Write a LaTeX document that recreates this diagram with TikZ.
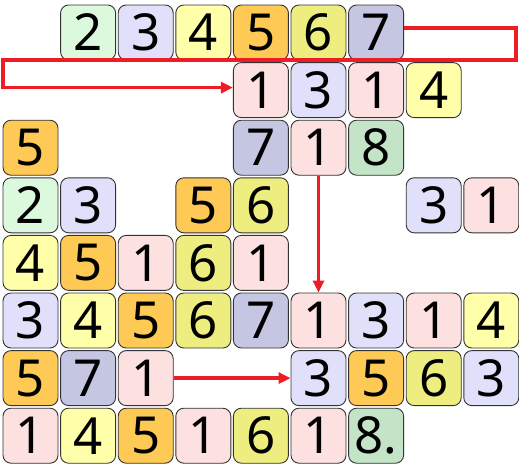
\documentclass[tikz,border=0pt]{standalone}
\usepackage{fontspec}
\setmainfont{Noto Sans}
\usepackage{tikz}
\usetikzlibrary{calc,arrows.meta}
\definecolor{d1}{HTML}{FDE0E0}
\definecolor{d2}{HTML}{DDF9DD}
\definecolor{d3}{HTML}{E0E0FA}
\definecolor{d4}{HTML}{FFFFAA}
\definecolor{d5}{HTML}{FFC955}
\definecolor{d6}{HTML}{EEEE80}
\definecolor{d7}{HTML}{C5C7E2}
\definecolor{d8}{HTML}{C4E4C8}
\definecolor{linkred}{HTML}{EE1C25}
\tikzset{
	tile/.style={draw=black!80, line width=0.9pt, rounded corners=8pt, fill=d#1,
		minimum size=55pt, inner sep=0pt, font=\fontsize{51}{51}\selectfont},
	link/.style={draw=linkred, line width=3.6pt, -{Triangle[length=12pt,width=11pt]}}
}
\def\tilerow(#1)#2{\foreach \c/\d/\t in {#2}
	\node[tile=\d] (r#1c\c) at ({30.5+57.6*\c}, {32.5+57.6*#1}) {\t};}

\begin{document}
\begin{tikzpicture}[x=1pt,y=-1pt]
			%%%%% START %%%%%
			\useasboundingbox[fill=white] (0,0) rectangle (519,464);
			
			\tilerow(0){1/2/2, 2/3/3, 3/4/4, 4/5/5, 5/6/6, 6/7/7}
			\tilerow(1){4/1/1, 5/3/3, 6/1/1, 7/4/4}
			\tilerow(2){0/5/5, 4/7/7, 5/1/1, 6/8/8}
			\tilerow(3){0/2/2, 1/3/3, 3/5/5, 4/6/6, 7/3/3, 8/1/1}
			\tilerow(4){0/4/4, 1/5/5, 2/1/1, 3/6/6, 4/1/1}
			\tilerow(5){0/3/3, 1/4/4, 2/5/5, 3/6/6, 4/7/7, 5/1/1, 6/3/3, 7/1/1, 8/4/4}
			\tilerow(6){0/5/5, 1/7/7, 2/1/1, 5/3/3, 6/5/5, 7/6/6, 8/3/3}
			\tilerow(7){0/1/1, 1/4/4, 2/5/5, 3/1/1, 4/6/6, 5/1/1, 6/8/8.}
			
			\coordinate (wrapR) at (516, 28);
			\coordinate (wrapL) at (3, 60);
			\draw[link] ([yshift=4.5pt]r0c6.east) -- (wrapR) |- (wrapL) |- ([yshift=2.5pt]r1c4.west);
			\draw[link] (r2c5.south) -- (r5c5.north);
			\draw[link] (r6c2.east) -- (r6c5.west);
			%%%%% END %%%%%
\end{tikzpicture}
\end{document}
